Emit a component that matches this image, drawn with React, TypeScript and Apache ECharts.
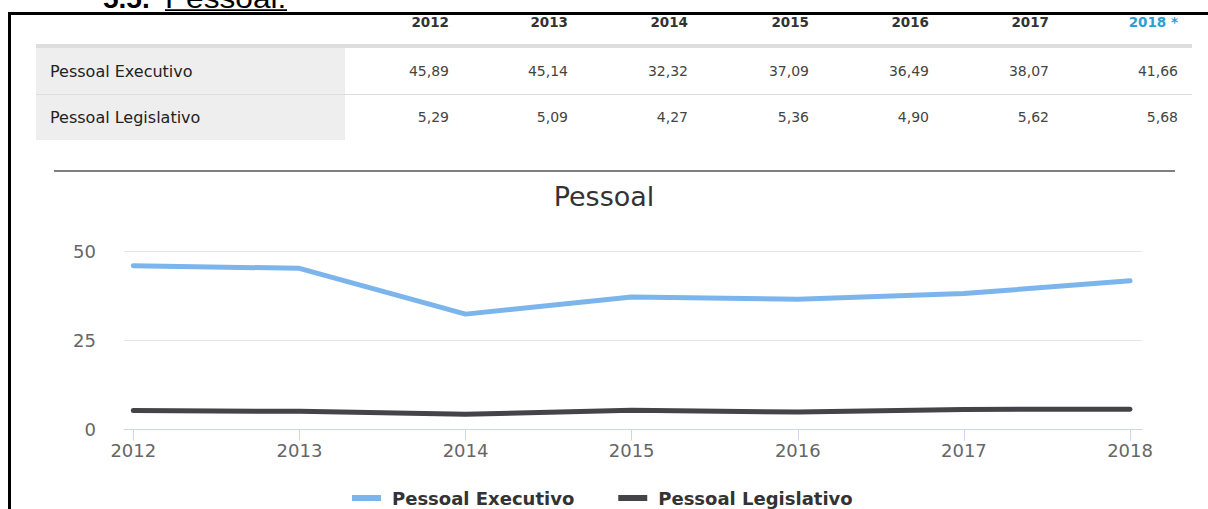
import React, { useEffect, useRef } from "react";
import * as echarts from "echarts";

const years = ["2012", "2013", "2014", "2015", "2016", "2017", "2018"];
const seriesNames = ["Pessoal Executivo", "Pessoal Legislativo"];
const executivo = [45.89, 45.14, 32.32, 37.09, 36.49, 38.07, 41.66];
const legislativo = [5.29, 5.09, 4.27, 5.36, 4.9, 5.62, 5.68];
const yTicks = [0, 25, 50];
const chartTitle = "Pessoal";
const headingNumber = "5.5.";
const headingText = "Pessoal.";
const lastYearMark = " *";

const colors = ["#7cb5ec", "#434348"];
const colRight = [449, 568, 688, 809, 929, 1049, 1178];
const FONT = "DejaVu Sans";

const fmt = (v: number) => v.toFixed(2).replace(".", ",");

export default function App() {
  const ref = useRef<HTMLDivElement>(null);
  useEffect(() => {
    if (!ref.current) return;
    const chart = echarts.init(ref.current, null, { renderer: "svg" });
    const rows = [executivo, legislativo];
    const rowY = [71, 117];

    const graphic: any[] = [
      // border
      { type: "rect", shape: { x: 8, y: 12, width: 1200, height: 3 }, style: { fill: "#000" } },
      { type: "rect", shape: { x: 8, y: 12, width: 3, height: 497 }, style: { fill: "#000" } },
      // heading
      {
        type: "text", x: 103, y: -1.5,
        style: { text: headingNumber, fontFamily: "Liberation Sans", fontSize: 28, fontWeight: "bold", fill: "#000", align: "left", verticalAlign: "middle" },
      },
      {
        type: "text", x: 165, y: -1.5, scaleX: 1.13,
        style: { text: headingText, fontFamily: "Liberation Sans", fontSize: 28, fill: "#000", align: "left", verticalAlign: "middle" },
      },
      { type: "rect", shape: { x: 165, y: 9.3, width: 122, height: 1.8 }, style: { fill: "#000" } },
      // table
      { type: "rect", shape: { x: 36, y: 44, width: 1156, height: 4 }, style: { fill: "#dddddd" } },
      { type: "rect", shape: { x: 36, y: 48, width: 309, height: 46 }, style: { fill: "#eeeeee" } },
      { type: "rect", shape: { x: 36, y: 95, width: 309, height: 45 }, style: { fill: "#eeeeee" } },
      { type: "line", shape: { x1: 36, y1: 94.5, x2: 1192, y2: 94.5 }, style: { stroke: "#dddddd", lineWidth: 1 } },
      // line above chart title
      { type: "line", shape: { x1: 54, y1: 171, x2: 1175, y2: 171 }, style: { stroke: "#555555", lineWidth: 1.5 } },
    ];

    years.forEach((y, i) => {
      const last = i === years.length - 1;
      graphic.push({
        type: "text", x: colRight[i], y: 22,
        style: {
          text: last ? y + lastYearMark : y,
          fontFamily: FONT, fontSize: 13.5, fontWeight: "bold",
          fill: last ? "#2a9fd6" : "#333333", align: "right", verticalAlign: "middle",
        },
      });
    });

    rows.forEach((vals, r) => {
      graphic.push({
        type: "text", x: 50, y: rowY[r],
        style: { text: seriesNames[r], fontFamily: FONT, fontSize: 16, fontWeight: "normal", fill: "#222222", align: "left", verticalAlign: "middle" },
      });
      vals.forEach((v, i) => {
        graphic.push({
          type: "text", x: colRight[i], y: rowY[r],
          style: { text: fmt(v), fontFamily: FONT, fontSize: 14, fill: "#444444", align: "right", verticalAlign: "middle" },
        });
      });
    });

    const idx = years.map((_, i) => i);

    chart.setOption({
      animation: false,
      title: {
        text: chartTitle,
        left: "center",
        top: 183,
        padding: 0,
        textStyle: { fontFamily: FONT, fontSize: 27, fontWeight: "normal", color: "#333333" },
      },
      legend: {
        left: 352,
        top: 489,
        itemWidth: 29,
        itemHeight: 6,
        itemGap: 44,
        icon: "rect",
        padding: 0,
        data: seriesNames,
        textStyle: { fontFamily: FONT, fontSize: 18, fontWeight: "bold", color: "#333333", padding: [0, 0, 0, 6] },
      },
      grid: { left: 124, right: 66, top: 251, bottom: 79.5, containLabel: false },
      xAxis: {
        type: "value",
        min: -0.056,
        max: 6.072,
        splitLine: { show: false },
        axisLine: { show: true, lineStyle: { color: "#ccd6eb", width: 1 } },
        axisTick: { show: true, customValues: idx, length: 11, lineStyle: { color: "#ccd6eb" } },
        axisLabel: {
          customValues: idx,
          formatter: (v: number) => years[Math.round(v)],
          fontFamily: FONT,
          fontSize: 18,
          color: "#666666",
          margin: 12,
        },
      },
      yAxis: {
        type: "value",
        min: yTicks[0],
        max: yTicks[yTicks.length - 1],
        interval: yTicks[1] - yTicks[0],
        axisLine: { show: false },
        axisTick: { show: false },
        splitLine: { lineStyle: { color: "#e6e6e6", width: 1 } },
        axisLabel: { fontFamily: FONT, fontSize: 18, color: "#666666", margin: 28 },
      },
      series: [executivo, legislativo].map((vals, s) => ({
        name: seriesNames[s],
        type: "line",
        data: vals.map((v, i) => [i, v]),
        showSymbol: false,
        symbol: "none",
        color: colors[s],
        lineStyle: { width: 5, color: colors[s], cap: "round", join: "round" },
        z: 3,
      })),
      graphic,
    });

    return () => chart.dispose();
  }, []);

  return (
    <div
      ref={ref}
      style={{ position: "absolute", left: 0, top: 0, width: 1208, height: 509, background: "#fff" }}
    />
  );
}
